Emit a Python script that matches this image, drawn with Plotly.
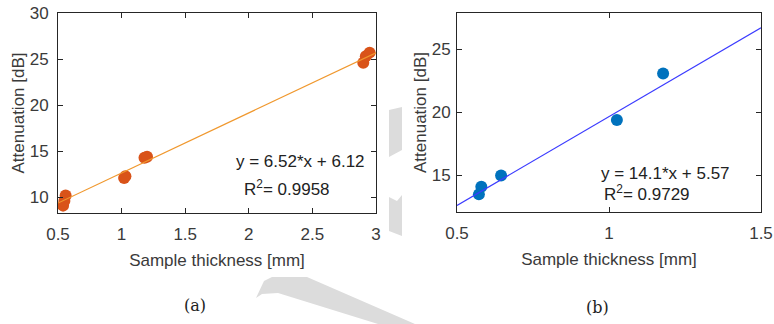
import plotly.graph_objects as go

W, H = 774, 324

# ---- data ----
thick_a = [0.54, 0.55, 0.56, 1.02, 1.03, 1.18, 1.20, 2.90, 2.92, 2.95]
atten_a = [9.1, 9.6, 10.2, 12.1, 12.3, 14.3, 14.4, 24.6, 25.3, 25.7]
fit_a = (6.52, 6.12)
r2_a = 0.9958

thick_b = [0.572, 0.58, 0.645, 1.026, 1.178]
atten_b = [13.5, 14.1, 15.0, 19.4, 23.1]
fit_b = (14.1, 5.57)
r2_b = 0.9729

xr_a, yr_a = [0.5, 3.0], [8.3, 30.0]
xr_b, yr_b = [0.5, 1.5], [12.1, 27.9]
xt_a = [0.5, 1, 1.5, 2, 2.5, 3]
xtl_a = ["0.5", "1", "1.5", "2", "2.5", "3"]
yt_a = [10, 15, 20, 25, 30]
xt_b = [0.5, 1, 1.5]
xtl_b = ["0.5", "1", "1.5"]
yt_b = [15, 20, 25]


def px(x):
    return x / W


def py(y):
    return 1 - y / H


fig = go.Figure()

la = [fit_a[0] * x + fit_a[1] for x in xr_a]
lb = [fit_b[0] * x + fit_b[1] for x in xr_b]
fig.add_trace(go.Scatter(x=thick_a, y=atten_a, mode="markers",
                         marker=dict(color="#D95319", size=12), xaxis="x", yaxis="y"))
fig.add_trace(go.Scatter(x=xr_a, y=la, mode="lines",
                         line=dict(color="#F0982E", width=1.2), xaxis="x", yaxis="y"))
fig.add_trace(go.Scatter(x=thick_b, y=atten_b, mode="markers",
                         marker=dict(color="#0072BD", size=12), xaxis="x2", yaxis="y2"))
fig.add_trace(go.Scatter(x=xr_b, y=lb, mode="lines",
                         line=dict(color="#3B3BFF", width=1.2), xaxis="x2", yaxis="y2"))

font = dict(family="Liberation Sans, Arial", size=17, color="#3a3a3a")
axcommon = dict(showgrid=False, zeroline=False, showline=True, linecolor="#262626",
                linewidth=1, mirror="ticks", ticks="inside", ticklen=5,
                tickcolor="#262626", tickfont=font, automargin=False)

fig.update_layout(
    width=W, height=H, margin=dict(l=0, r=0, t=0, b=0, autoexpand=False),
    paper_bgcolor="white", plot_bgcolor="white", showlegend=False,
    font=font,
    xaxis=dict(domain=[px(58), px(376)], range=xr_a, tickvals=xt_a, ticktext=xtl_a,
               anchor="y", ticklabelstandoff=6,
               title=dict(text="Sample thickness [mm]", font=font, standoff=10),
               **axcommon),
    yaxis=dict(domain=[py(213), py(13)], range=yr_a, tickvals=yt_a, anchor="x",
               ticklabelstandoff=5,
               title=dict(text="Attenuation [dB]", font=font, standoff=0), **axcommon),
    xaxis2=dict(domain=[px(457), px(761)], range=xr_b, tickvals=xt_b, ticktext=xtl_b,
                anchor="y2", ticklabelstandoff=6,
                title=dict(text="Sample thickness [mm]", font=font, standoff=10),
                **axcommon),
    yaxis2=dict(domain=[py(212), py(13)], range=yr_b, tickvals=yt_b, anchor="x2",
                ticklabelstandoff=2,
                title=dict(text="Attenuation [dB]", font=font, standoff=0), **axcommon),
)

ann = [
    (234, 161, f"y = {fit_a[0]}*x + {fit_a[1]}"),
    (242, 188, f"R<sup>2</sup>= {r2_a}"),
    (599, 173, f"y = {fit_b[0]}*x + {fit_b[1]}"),
    (602, 193, f"R<sup>2</sup>= {r2_b}"),
]
for x, y, t in ann:
    fig.add_annotation(x=px(x), y=py(y), xref="paper", yref="paper", text=t,
                       showarrow=False, xanchor="left", yanchor="middle",
                       font=dict(family="Liberation Sans, Arial", size=17, color="#222222"))

cap = dict(family="DejaVu Serif, Liberation Serif", size=16, color="#222222")
fig.add_annotation(x=px(195), y=py(305), xref="paper", yref="paper", text="(a)",
                   showarrow=False, xanchor="center", yanchor="middle", font=cap)
fig.add_annotation(x=px(597), y=py(307), xref="paper", yref="paper", text="(b)",
                   showarrow=False, xanchor="center", yanchor="middle", font=cap)


def path(pts):
    return "M " + " L ".join(f"{px(x):.5f},{py(y):.5f}" for x, y in pts) + " Z"


wm = [
    [(389, 110), (402, 107), (402, 150), (389, 157)],
    [(389, 197), (397, 201), (402, 195), (402, 236), (389, 231)],
    [(256, 298), (264, 281), (272, 277), (307, 277), (415, 324), (378, 324), (278, 293), (262, 294)],
]
for p in wm:
    fig.add_shape(type="path", path=path(p), xref="paper", yref="paper",
                  fillcolor="#DCDCDC", line=dict(width=0), layer="below")

fig.write_html("out.html")
